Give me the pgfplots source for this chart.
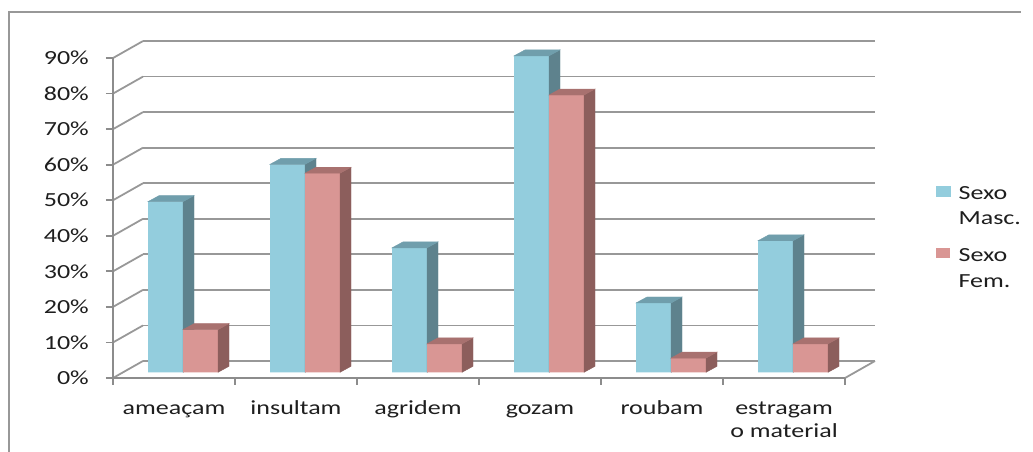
\documentclass[border=0pt]{standalone}
\usepackage{fontspec}
\setmainfont{Carlito}[FakeStretch=1.3]
\usepackage{pgfplots}
\pgfplotsset{compat=1.18}
\usepackage{pgfplotstable}

\definecolor{mascfront}{RGB}{147,205,221}
\definecolor{mascside}{RGB}{94,130,141}
\definecolor{masctop}{RGB}{112,158,172}
\definecolor{femfront}{RGB}{217,150,148}
\definecolor{femside}{RGB}{140,94,92}
\definecolor{femtop}{RGB}{168,113,111}
\definecolor{gridc}{RGB}{152,152,152}
\definecolor{axisc}{RGB}{140,140,140}
\definecolor{txt}{RGB}{30,30,30}

\pgfdeclareplotmark{empty}{}
\newcommand\lab{\fontsize{20}{23.3}\selectfont}
\newcommand\leg{\fontsize{20}{25.7}\selectfont}

\pgfplotsset{
  barplane/.style={at={(122pt,79.7pt)}, anchor=origin, x=122pt, y=3.555pt,
    xmin=0, xmax=6, ymin=0, ymax=90, hide axis, clip=false},
  mascleg/.style={legend image code/.code={\fill[mascfront] (0pt,7.8pt) rectangle (14pt,17.8pt);}},
  femleg/.style={legend image code/.code={\fill[femfront] (0pt,7.8pt) rectangle (14pt,17.8pt);}},
}

% x = category centre, m = Sexo Masc., f = Sexo Fem. (percent)
\pgfplotstableread{
x   m     f
0.5 48    12
1.5 58.5  56
2.5 35    8
3.5 89    78
4.5 19.5  4
5.5 37    8
}\datatable

\begin{document}
\begin{tikzpicture}
\useasboundingbox (0pt,0pt) rectangle (1033pt,452pt);
% chart frame
\draw[gridc, line width=1.5pt] (9pt,-10pt) -- (9pt,440pt) -- (1021pt,440pt);

% back wall with the gridlines
\begin{axis}[at={(143pt,91pt)}, anchor=origin, x=122pt, y=3.555pt,
  xmin=0, xmax=6, ymin=0, ymax=90,
  xtick=\empty, ytick={0,10,...,90}, yticklabels={},
  major tick length=0pt, axis line style={draw=none},
  ymajorgrids, grid style={gridc, line width=1.8pt}]
\end{axis}

% left wall and floor edges
\foreach \i in {0,...,9}
  \draw[gridc, line width=1.8pt] (113pt,{74pt+\i*35.55pt}) -- ++(30pt,17pt);
\draw[gridc, line width=1.8pt] (845pt,74pt) -- ++(30pt,17pt);

% front axes, ticks and labels
\begin{axis}[at={(113pt,74pt)}, anchor=origin, x=122pt, y=3.555pt,
  xmin=0, xmax=6, ymin=0, ymax=90,
  axis lines*=left, axis line style={axisc, line width=1.8pt},
  tick align=outside, tick style={axisc, line width=1.8pt},
  major tick length=7pt,
  xtick={0,...,6}, x tick label as interval,
  xticklabels={ameaçam\strut, insultam\strut, agridem\strut, gozam\strut, roubam\strut, {estragam\strut\\o material\strut}},
  xticklabel style={font=\lab, text=txt, anchor=north, align=center, inner sep=0pt, yshift=-13pt},
  ytick={0,10,...,90},
  yticklabels={0\%,10\%,20\%,30\%,40\%,50\%,60\%,70\%,80\%,90\%},
  yticklabel style={font=\lab, text=txt, anchor=east, inner sep=0pt, xshift=-17pt}]
\end{axis}

% Sexo Masc.: front faces, then side and top faces
\begin{axis}[barplane]
\addplot[ybar, bar width=35pt, bar shift=-17.5pt, fill=mascfront, draw=none]
  table[x=x, y=m]{\datatable};
\addplot[only marks, scatter, mark=empty,
  visualization depends on={3.555*\thisrow{m} \as \h},
  scatter/@pre marker code/.code={
    \fill[mascside] (0pt,0pt) -- (11pt,6pt) -- (11pt,{6pt-\h pt}) -- (0pt,{-\h pt}) -- cycle;
    \fill[masctop] (-35pt,0pt) -- (0pt,0pt) -- (11pt,6pt) -- (-24pt,6pt) -- cycle;
  },
  scatter/@post marker code/.code={}]
  table[x=x, y=m]{\datatable};
\end{axis}

% Sexo Fem.: front faces, then side and top faces; legend
\begin{axis}[barplane,
  legend style={at={(axis cs:6.6721,54.4)}, anchor=north west, draw=none, fill=none,
    inner sep=0pt, row sep=13.3pt, font=\leg, text=txt,
    cells={align=left, inner sep=0pt},
    /tikz/every odd column/.append style={column sep=6pt}},
  legend cell align=left]
\addlegendimage{mascleg}
\addlegendentry{Sexo\strut\\Masc.\strut}
\addplot[ybar, bar width=35pt, bar shift=17.5pt, fill=femfront, draw=none, femleg]
  table[x=x, y=f]{\datatable};
\addlegendentry{Sexo\strut\\Fem.\strut}
\addplot[forget plot, only marks, scatter, mark=empty,
  visualization depends on={3.555*\thisrow{f} \as \h},
  scatter/@pre marker code/.code={
    \fill[femside] (35pt,0pt) -- (46pt,6pt) -- (46pt,{6pt-\h pt}) -- (35pt,{-\h pt}) -- cycle;
    \fill[femtop] (0pt,0pt) -- (35pt,0pt) -- (46pt,6pt) -- (11pt,6pt) -- cycle;
  },
  scatter/@post marker code/.code={}]
  table[x=x, y=f]{\datatable};
\end{axis}
\end{tikzpicture}
\end{document}
